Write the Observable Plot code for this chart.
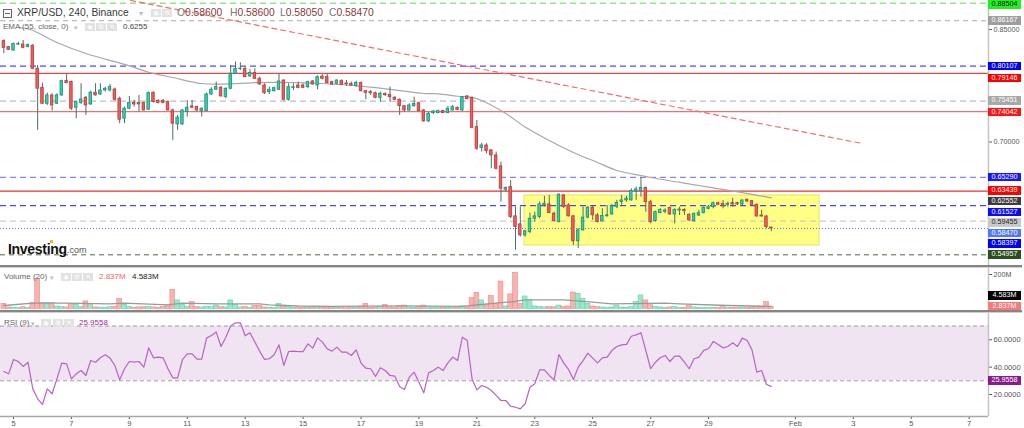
<!DOCTYPE html>
<html>
<head>
<meta charset="utf-8">
<script src="https://cdn.jsdelivr.net/npm/d3@7"></script>
<script src="https://cdn.jsdelivr.net/npm/@observablehq/plot@0.6"></script>
<style>
html,body{margin:0;padding:0;background:#fff;}
#wrap{position:relative;width:1024px;height:428px;overflow:hidden;font-family:"Liberation Sans",Arial,sans-serif;}
#wrap svg{position:absolute;left:0;}
.ov{position:absolute;white-space:nowrap;line-height:1;}
.ico{position:absolute;width:10px;height:8px;background:#e2e2e2;color:#fff;font-size:6.5px;line-height:8px;text-align:center;font-family:"DejaVu Sans",sans-serif;}
.tag{position:absolute;left:988px;width:33px;height:8.5px;font-size:7.2px;line-height:8.5px;text-align:center;color:#fff;}
.sep{position:absolute;left:0;width:1022px;}
</style>
</head>
<body>
<div id="wrap"></div>
<script>
// ---------- DATA (4h candles, XRP/USD) ----------
const opens = [
0.8345,0.8265,0.8220,0.8300,0.8300,0.8265,0.8283,0.7976,0.7723,0.7510,
0.7621,0.7510,0.7621,0.7812,0.7799,0.7457,0.7519,0.7590,0.7501,0.7657,
0.7634,0.7688,0.7688,0.7700,0.7577,0.7310,0.7444,0.7519,0.7519,0.7519,
0.7430,0.7657,0.7546,0.7546,0.7532,0.7421,0.7235,0.7235,0.7399,0.7475,
0.7466,0.7412,0.7412,0.7634,0.7697,0.7723,0.7599,0.7710,0.7910,0.7974,
0.7976,0.7874,0.7919,0.7843,0.7754,0.7665,0.7678,0.7696,0.7820,0.7563,
0.7722,0.7754,0.7754,0.7731,0.7807,0.7754,0.7873,0.7865,0.7798,0.7776,
0.7811,0.7780,0.7776,0.7745,0.7789,0.7678,0.7665,0.7651,0.7589,0.7643,
0.7629,0.7589,0.7563,0.7478,0.7420,0.7478,0.7518,0.7420,0.7274,0.7385,
0.7385,0.7412,0.7385,0.7420,0.7456,0.7420,0.7607,0.7589,0.7198,0.6919,
0.6954,0.6888,0.6821,0.6675,0.6364,0.6399,0.6009,0.5902,0.5755,0.5800,
0.5977,0.6000,0.6155,0.6168,0.6044,0.5933,0.6288,0.6155,0.6009,0.5676,
0.5822,0.5991,0.6124,0.6022,0.5942,0.6009,0.6035,0.6133,0.6199,0.6221,
0.6221,0.6341,0.6344,0.6389,0.6198,0.5945,0.6051,0.6069,0.6122,0.6034,
0.6087,0.6096,0.6029,0.5945,0.6020,0.6051,0.6109,0.6131,0.6185,0.6176,
0.6162,0.6185,0.6185,0.6167,0.6229,0.6211,0.6162,0.6020,0.6007,0.5860];
const highs = [
0.8363,0.8274,0.8318,0.8331,0.8354,0.8309,0.8300,0.8020,0.7785,0.7652,
0.7643,0.7643,0.7825,0.7901,0.7812,0.7546,0.7777,0.7608,0.7679,0.7777,
0.7777,0.7732,0.7768,0.7720,0.7599,0.7466,0.7608,0.7554,0.7621,0.7532,
0.7666,0.7666,0.7563,0.7568,0.7546,0.7439,0.7355,0.7430,0.7554,0.7554,
0.7475,0.7457,0.7652,0.7723,0.7799,0.7741,0.7723,0.8021,0.8065,0.8056,
0.7999,0.7963,0.7976,0.7865,0.7776,0.7731,0.7731,0.7909,0.7829,0.7776,
0.7776,0.7798,0.7776,0.7811,0.7820,0.7882,0.7896,0.7909,0.7811,0.7829,
0.7829,0.7820,0.7798,0.7811,0.7798,0.7687,0.7687,0.7665,0.7665,0.7651,
0.7731,0.7607,0.7576,0.7487,0.7509,0.7598,0.7532,0.7434,0.7398,0.7420,
0.7425,0.7420,0.7474,0.7487,0.7465,0.7607,0.7620,0.7598,0.7287,0.6985,
0.6976,0.6896,0.6865,0.6732,0.6399,0.6488,0.6133,0.6133,0.5822,0.6053,
0.6066,0.6199,0.6275,0.6288,0.6066,0.6310,0.6297,0.6177,0.6022,0.5844,
0.6133,0.6142,0.6142,0.6044,0.6111,0.6155,0.6168,0.6221,0.6288,0.6275,
0.6377,0.6399,0.6529,0.6398,0.6220,0.6078,0.6109,0.6109,0.6131,0.6109,
0.6131,0.6109,0.6043,0.6051,0.6087,0.6131,0.6154,0.6198,0.6198,0.6220,
0.6198,0.6251,0.6198,0.6229,0.6242,0.6220,0.6176,0.6087,0.6020,0.5860];
const lows = [
0.8176,0.8220,0.8211,0.8287,0.8243,0.8256,0.7963,0.7155,0.7501,0.7488,
0.7412,0.7501,0.7608,0.7777,0.7421,0.7310,0.7501,0.7355,0.7488,0.7612,
0.7621,0.7666,0.7666,0.7546,0.7244,0.7244,0.7430,0.7466,0.7399,0.7412,
0.7421,0.7519,0.7510,0.7510,0.7412,0.7022,0.7155,0.7222,0.7333,0.7444,
0.7399,0.7333,0.7399,0.7621,0.7688,0.7599,0.7577,0.7697,0.7901,0.7954,
0.7856,0.7865,0.7830,0.7755,0.7634,0.7634,0.7665,0.7687,0.7545,0.7545,
0.7687,0.7709,0.7714,0.7709,0.7758,0.7696,0.7829,0.7776,0.7754,0.7762,
0.7754,0.7740,0.7745,0.7731,0.7665,0.7563,0.7620,0.7576,0.7532,0.7607,
0.7532,0.7554,0.7354,0.7398,0.7412,0.7465,0.7398,0.7265,0.7261,0.7367,
0.7376,0.7376,0.7376,0.7412,0.7420,0.7412,0.7563,0.7176,0.6888,0.6865,
0.6843,0.6643,0.6630,0.6199,0.6333,0.5977,0.5556,0.5733,0.5733,0.5778,
0.5933,0.5977,0.6133,0.6044,0.5933,0.5920,0.6111,0.6000,0.5622,0.5578,
0.5813,0.5977,0.5955,0.5920,0.5933,0.6000,0.6022,0.6111,0.6155,0.6199,
0.6212,0.6221,0.6265,0.6065,0.5909,0.5932,0.6043,0.6043,0.6020,0.5909,
0.6020,0.6020,0.5941,0.5932,0.6007,0.6043,0.6096,0.6109,0.6154,0.6109,
0.6131,0.6131,0.6154,0.6154,0.6194,0.6149,0.5998,0.5998,0.5843,0.5805];
const closes = [
0.8256,0.8229,0.8309,0.8305,0.8256,0.8291,0.7976,0.7710,0.7510,0.7621,
0.7488,0.7621,0.7812,0.7785,0.7444,0.7532,0.7568,0.7488,0.7657,0.7621,
0.7688,0.7710,0.7732,0.7563,0.7297,0.7444,0.7519,0.7501,0.7501,0.7421,
0.7652,0.7532,0.7519,0.7519,0.7421,0.7244,0.7324,0.7421,0.7457,0.7457,
0.7421,0.7444,0.7634,0.7697,0.7732,0.7608,0.7710,0.7910,0.7976,0.7978,
0.7865,0.7919,0.7843,0.7768,0.7651,0.7696,0.7718,0.7807,0.7563,0.7731,
0.7731,0.7722,0.7722,0.7798,0.7767,0.7865,0.7842,0.7785,0.7767,0.7820,
0.7762,0.7771,0.7754,0.7789,0.7678,0.7656,0.7651,0.7589,0.7643,0.7625,
0.7598,0.7563,0.7478,0.7420,0.7487,0.7509,0.7412,0.7274,0.7376,0.7407,
0.7412,0.7385,0.7443,0.7465,0.7429,0.7598,0.7572,0.7189,0.6910,0.6954,
0.6879,0.6821,0.6643,0.6377,0.6390,0.6000,0.5866,0.5755,0.5809,0.5977,
0.6009,0.6168,0.6177,0.6053,0.5946,0.6297,0.6133,0.6009,0.5676,0.5822,
0.5991,0.6124,0.6022,0.5933,0.6013,0.6022,0.6142,0.6186,0.6221,0.6244,
0.6346,0.6368,0.6389,0.6198,0.5932,0.6065,0.6096,0.6087,0.6034,0.6096,
0.6100,0.6078,0.5954,0.6043,0.6051,0.6122,0.6131,0.6185,0.6162,0.6149,
0.6176,0.6167,0.6167,0.6220,0.6207,0.6162,0.6007,0.6007,0.5865,0.5847];
const volumes = [ // millions
29,8,7,5,9,6,33,175,33,33,
33,14,10,8,29,23,9,43,29,8,
7,5,9,12,58,23,10,6,8,9,
12,8,6,10,19,111,49,23,12,39,
10,8,12,10,19,10,8,49,23,8,
12,6,17,17,8,6,5,29,19,10,
5,4,5,6,4,8,5,6,4,5,
4,3,4,5,12,29,6,8,10,23,
8,6,16,19,8,6,10,19,8,5,
4,5,6,5,4,14,8,62,93,49,
20,74,30,159,14,84,210,29,72,49,
14,12,8,10,9,19,12,14,95,87,
58,29,14,10,8,6,8,19,8,6,
10,39,78,49,29,12,8,6,8,10,
6,5,16,8,6,5,4,6,5,16,
4,5,4,5,4,6,12,8,39,10];
const rsiValues = [
36.8,35.1,45.6,44.1,40.5,43.6,24.1,16.8,12.7,24.1,
20.5,31.4,42.9,42.4,31.4,35.1,37.5,33.9,44.8,43.6,
46.8,49.0,46.6,41.2,30.7,38.8,44.1,43.6,44.1,40.0,
54.1,46.8,47.3,46.8,38.8,32.2,32.2,45.4,49.7,49.7,
45.8,45.8,61.2,63.1,65.6,55.1,61.9,70.0,72.4,72.4,
62.9,65.1,58.3,51.7,45.6,46.1,49.0,56.3,41.2,51.4,
51.7,51.4,51.4,57.0,53.9,61.4,58.3,53.4,51.7,54.6,
50.9,50.9,48.5,52.6,42.9,39.2,38.8,33.1,39.5,37.5,
33.9,33.4,25.8,23.6,32.7,36.3,29.0,21.2,35.8,37.5,
40.0,37.5,43.1,47.3,44.8,61.9,59.5,31.4,23.4,26.6,
25.3,22.9,19.3,15.6,15.6,11.4,10.7,9.5,13.2,25.3,
27.8,38.0,38.0,33.9,30.7,49.2,42.9,38.3,31.0,40.0,
44.8,50.2,46.6,43.1,46.8,47.3,52.2,55.1,56.3,56.6,
62.6,63.6,65.1,52.2,38.8,43.6,46.8,48.5,44.1,48.0,
48.0,43.6,38.8,46.1,47.3,52.2,53.4,58.8,56.6,54.1,
55.1,57.8,55.1,61.2,59.5,52.6,36.3,37.5,27.3,25.96];
// EMA(55) read at candle positions
const emaIndex  = [3,6,11,17,26,30,35,41,48,53,66,77,87,90,94,97,99,104,108,113,118,123,127,132,134,144,153,159];
const emaValues = [0.8530,0.8487,0.8327,0.8180,0.8015,0.7930,0.7860,0.7780,0.7778,0.7793,0.7780,0.7725,0.7647,0.7643,0.7610,0.7595,0.7553,0.7380,0.7200,0.7020,0.6860,0.6727,0.6620,0.6553,0.6527,0.6420,0.6325,0.6255];
// Volume MA(20) read at candle positions (millions)
const volMaIndex  = [0,6,13,22,25,34,37,44,53,55,61,68,82,95,99,102,106,108,116,122,126,137,140,150,159];
const volMaValues = [19,33,33,29,33,23,33,29,29,23,16,14,17,14,25,33,43,52,52,39,29,33,29,19,14];
// horizontal levels
const levelPrices = [0.88504,0.86167,0.80107,0.79146,0.75451,0.74042,0.65290,0.63439,0.61527,0.59455,0.58470,0.54957];
// right-hand price tags
const tagPrices = [0.88504,0.86167,0.80107,0.79146,0.75451,0.74042,0.65290,0.63439,0.62552,0.61527,0.59455,0.58470,0.58397,0.54957];
// trend line and consolidation zone
const trendDates = ["2022-01-09T01:00Z","2022-02-03T07:30Z"];
const trendPrices = [0.8887,0.6980];
const zoneDates = ["2022-01-22T15:30Z","2022-02-01T20:00Z"];
const zonePrices = [0.5620,0.6287];
// axes
const tickDates = ["2022-01-05","2022-01-07","2022-01-09","2022-01-11","2022-01-13","2022-01-15","2022-01-17","2022-01-19","2022-01-21","2022-01-23","2022-01-25","2022-01-27","2022-01-29","2022-02-01","2022-02-03","2022-02-05","2022-02-07"];
const tickLabels = ["5","7","9","11","13","15","17","19","21","23","25","27","29","Feb","3","5","7"];
const priceTicks = [0.85,0.70];
const volumeTicks = [200];
const rsiTicks = [20,40,60];
const rsiBand = [30,70];
const legendOHLC = ["0.58600","0.58600","0.58050","0.58470"];
const legendEMA = "0.6255";
const legendVol = ["2.837M","4.583M"];
const legendRSI = "25.9558";
const volTags = [4.583,2.837];
const rsiTag = 25.9558;

// ---------- STYLES ----------
const levelStyles = [
 {stroke:"#8fe88f",w:1.5,dash:"6,4"},{stroke:"#aaaaaa",w:1,dash:"5,4"},
 {stroke:"#4d4dff",w:1.2,dash:"6,4"},{stroke:"#e04848",w:1.2,dash:null},
 {stroke:"#bdbdbd",w:1.3,dash:"6,4"},{stroke:"#f07070",w:1.2,dash:null},
 {stroke:"#8585ff",w:1.3,dash:"6,4"},{stroke:"#e83232",w:1.2,dash:null},
 {stroke:"#4646ff",w:1.3,dash:"6,4"},{stroke:"#cccccc",w:1.3,dash:"6,4"},
 {stroke:"#5a6cff",w:1,dash:"1,2"},{stroke:"#4f6b3f",w:1,dash:"5,4"}];
const tagStyles = [
 {bg:"#22f022",fg:"#111",dy:1.8},{bg:"#9e9e9e",fg:"#fff",dy:0.4},
 {bg:"#0000ff",fg:"#fff",dy:0.3},{bg:"#ff0000",fg:"#fff",dy:5},
 {bg:"#a8a8a8",fg:"#fff",dy:0},{bg:"#ff1414",fg:"#fff",dy:0.8},
 {bg:"#1616ff",fg:"#fff",dy:0},{bg:"#ff0000",fg:"#fff",dy:0},
 {bg:"#3c3c3c",fg:"#fff",dy:3.6},{bg:"#0a0aff",fg:"#fff",dy:7},
 {bg:"#c9c9c9",fg:"#222",dy:2.1},{bg:"#4f78ff",fg:"#fff",dy:5},
 {bg:"#0000ff",fg:"#fff",dy:15.2},{bg:"#2b4d1f",fg:"#fff",dy:0}];

const FONT = '"Liberation Sans", Arial, sans-serif';
const HOUR = 3600e3, DAY = 864e5;
const t0 = Date.UTC(2022,0,4,16);
const jan5 = Date.UTC(2022,0,5);
const xDomain = [new Date(jan5 - 0.449*DAY), new Date(jan5 + 33.667*DAY)];
const at = i => new Date(t0 + i*4*HOUR);

const candles = opens.map((o,i)=>({date:at(i),open:o,high:highs[i],low:lows[i],close:closes[i],volume:volumes[i],rsi:rsiValues[i],up:closes[i]>=o}));
const ema = emaIndex.map((k,i)=>({date:at(k),value:emaValues[i]}));
const volMa = volMaIndex.map((k,i)=>({date:at(k),value:volMaValues[i]}));
const trend = trendDates.map((d,i)=>({date:new Date(d),price:trendPrices[i]}));
const zone = [{start:new Date(zoneDates[0]),end:new Date(zoneDates[1]),low:zonePrices[0],high:zonePrices[1]}];
const tickMap = new Map(tickDates.map((d,i)=>[+new Date(d),tickLabels[i]]));

const baseStyle = {background:"transparent",fontFamily:FONT,fontSize:"7.2px",color:"#555",overflow:"visible"};
const axisRule = Plot.ruleX([xDomain[1]],{stroke:"#c4c4c4",strokeWidth:1.5});

// ---------- MAIN PRICE PANE ----------
const priceDomain = [0.5340,0.88867];
const main = Plot.plot({
  width:1024,height:266,marginLeft:0,marginRight:36,marginTop:0,marginBottom:0,
  style:baseStyle,
  x:{type:"utc",domain:xDomain,axis:null},
  y:{domain:priceDomain,axis:"right",ticks:priceTicks,tickFormat:d3.format(".5f"),tickSize:3,tickPadding:2,label:null},
  color:{type:"identity"},
  marks:[
    Plot.rect(zone,{x1:"start",x2:"end",y1:"low",y2:"high",fill:"#ffff84",stroke:"#e4e45a",strokeWidth:1}),
    ...levelPrices.map((p,i)=>Plot.ruleY([p],{stroke:levelStyles[i].stroke,strokeWidth:levelStyles[i].w,strokeDasharray:levelStyles[i].dash})),
    Plot.line(trend,{x:"date",y:"price",stroke:"#f26d6d",strokeWidth:1.2,strokeDasharray:"5,4"}),
    Plot.line(ema,{x:"date",y:"value",stroke:"#a8a8a8",strokeWidth:1.2,curve:"catmull-rom"}),
    Plot.ruleX(candles,{x:"date",y1:"low",y2:"high",stroke:"#4d6e60",strokeWidth:1}),
    Plot.rect(candles,{x1:d=>new Date(+d.date-1.05*HOUR),x2:d=>new Date(+d.date+1.05*HOUR),y1:"open",y2:"close",
      fill:d=>d.up?"#2fd2ae":"#f25b5b",stroke:d=>d.up?"#1b8f75":"#b83c3c",strokeWidth:0.8}),
    axisRule
  ]
});

// ---------- VOLUME PANE ----------
const volDomain = [-15.7,240.8];
const vol = Plot.plot({
  width:1024,height:44,marginLeft:0,marginRight:36,marginTop:0,marginBottom:0,
  style:baseStyle,
  x:{type:"utc",domain:xDomain,axis:null},
  y:{domain:volDomain,axis:"right",ticks:volumeTicks,tickFormat:d=>d+"M",tickSize:3,tickPadding:2,label:null},
  color:{type:"identity"},
  marks:[
    Plot.rectY(candles,{x1:d=>new Date(+d.date-2*HOUR),x2:d=>new Date(+d.date+2*HOUR),y:"volume",
      fill:d=>d.up?"#98e9cb":"#f9b3af",stroke:d=>d.up?"#62d4aa":"#f08a86",strokeWidth:0.6}),
    Plot.line(volMa,{x:"date",y:"value",stroke:"#9a9a9a",strokeWidth:1.4}),
    axisRule
  ]
});

// ---------- RSI PANE ----------
const rsiDomain = [3.9,79.2];
const rsi = Plot.plot({
  width:1024,height:115,marginLeft:0,marginRight:36,marginTop:0,marginBottom:12,
  style:{...baseStyle,fontSize:"7.5px"},
  x:{type:"utc",domain:xDomain,ticks:tickDates.map(d=>new Date(d)),tickFormat:d=>tickMap.get(+d)||"",tickSize:3,tickPadding:1,label:null},
  y:{domain:rsiDomain,axis:"right",ticks:rsiTicks,tickFormat:d3.format(".4f"),tickSize:3,tickPadding:2,label:null},
  color:{type:"identity"},
  marks:[
    Plot.rect([{lo:rsiBand[0],hi:rsiBand[1]}],{x1:()=>xDomain[0],x2:()=>xDomain[1],y1:"lo",y2:"hi",fill:"#f0e3f2"}),
    Plot.ruleY(rsiBand,{stroke:"#a0a0a0",strokeDasharray:"4,3",strokeWidth:1}),
    Plot.line(candles,{x:"date",y:"rsi",stroke:"#b665c0",strokeWidth:1.2}),
    Plot.ruleY([rsiDomain[0]],{stroke:"#a8a8a8",strokeWidth:1.5}),
    axisRule
  ]
});

const wrap = document.getElementById("wrap");
main.style.top = "0px"; vol.style.top = "267px"; rsi.style.top = "313px";
wrap.appendChild(main); wrap.appendChild(vol); wrap.appendChild(rsi);

function scaleOf(plot,name){const s=plot.scale(name); return s.apply ? (v=>s.apply(v)) : d3.scaleLinear(s.domain,s.range);}
function div(cls,css,html){const e=document.createElement("div"); if(cls) e.className=cls; e.style.cssText=css; e.innerHTML=html||""; wrap.appendChild(e); return e;}

// separators
div("sep","top:265px;height:2px;background:#858585;");
div("sep","top:267px;height:1px;background:#cfcfcf;");
div("sep","top:310px;height:2px;background:#858585;");
div("sep","top:312px;height:1px;background:#cfcfcf;");

// price tags
const yMain = scaleOf(main,"y");
tagPrices.forEach((p,i)=>{
  const s=tagStyles[i];
  const top=Math.max(0,yMain(p)+s.dy-4.25);
  div("tag",`top:${top}px;background:${s.bg};color:${s.fg};`,d3.format(".5f")(p));
});
// volume tags
const yVol = scaleOf(vol,"y");
div("tag",`top:${267+yVol(volTags[0])-16.5}px;background:#000;color:#fff;`,legendVol[1]);
div("tag",`top:${267+yVol(volTags[1])-6}px;background:#f77b7b;color:#fff;`,legendVol[0]);
// rsi tag
const yRsi = scaleOf(rsi,"y");
div("tag",`top:${313+yRsi(rsiTag)-9.5}px;background:#8a1a8a;color:#fff;`,legendRSI);

// header
div("ov","left:3px;top:9px;width:7px;height:7px;border:1px solid #666;","");
div("ov","left:5px;top:13px;width:5px;height:1px;background:#666;","");
div("ov",`left:17px;top:8px;font-size:10.3px;color:#3a3a3a;`,"XRP/USD, 240, Binance");
div("ov","left:139px;top:10px;font-size:8px;color:#bbb;","▾");
div("ico","left:151px;top:9px;","◉");
div("ico","left:162px;top:9px;","⚙");
const ohlcX=[177,230,280,329], ohlcL=["O","H","L","C"];
ohlcL.forEach((l,i)=>div("ov",`left:${ohlcX[i]}px;top:8px;font-size:10.3px;color:#777;`,`${l}<span style="color:#873a3a">${legendOHLC[i]}</span>`));
// EMA legend
div("ov","left:3px;top:23px;font-size:8px;color:#666;","EMA (55, close, 0)");
div("ov","left:74px;top:23.5px;font-size:7px;color:#bbb;","▾");
div("ico","left:85px;top:23px;","◉");
div("ico","left:96px;top:23px;","⚙");
div("ico","left:107px;top:23px;","✕");
div("ov","left:123px;top:23px;font-size:8px;color:#444;",legendEMA);
// Investing logo
div("ov","left:8px;top:241.5px;font-size:14px;font-weight:bold;color:#111;letter-spacing:-0.3px;","Investing");
div("ov","left:50px;top:240px;width:3px;height:3px;background:#f5a623;border-radius:1px;","");
div("ov","left:67px;top:246px;font-size:9px;color:#555;",".com");
// Volume legend
div("ov","left:4px;top:273px;font-size:8px;color:#666;","Volume (20)");
div("ov","left:50px;top:273.5px;font-size:7px;color:#bbb;","▾");
div("ico","left:61px;top:273px;","◉");
div("ico","left:72px;top:273px;","⚙");
div("ico","left:83px;top:273px;","✕");
div("ov","left:99px;top:273px;font-size:8px;color:#f26464;",legendVol[0]);
div("ov","left:132px;top:273px;font-size:8px;color:#222;",legendVol[1]);
// RSI legend
div("ov","left:4px;top:319px;font-size:8px;color:#666;","RSI (9)");
div("ov","left:31px;top:319.5px;font-size:7px;color:#bbb;","▾");
div("ico","left:41px;top:319px;","◉");
div("ico","left:53px;top:319px;","⚙");
div("ico","left:64px;top:319px;","✕");
div("ov","left:79px;top:319px;font-size:8px;color:#9c2a9c;",legendRSI);
</script>
</body>
</html>
